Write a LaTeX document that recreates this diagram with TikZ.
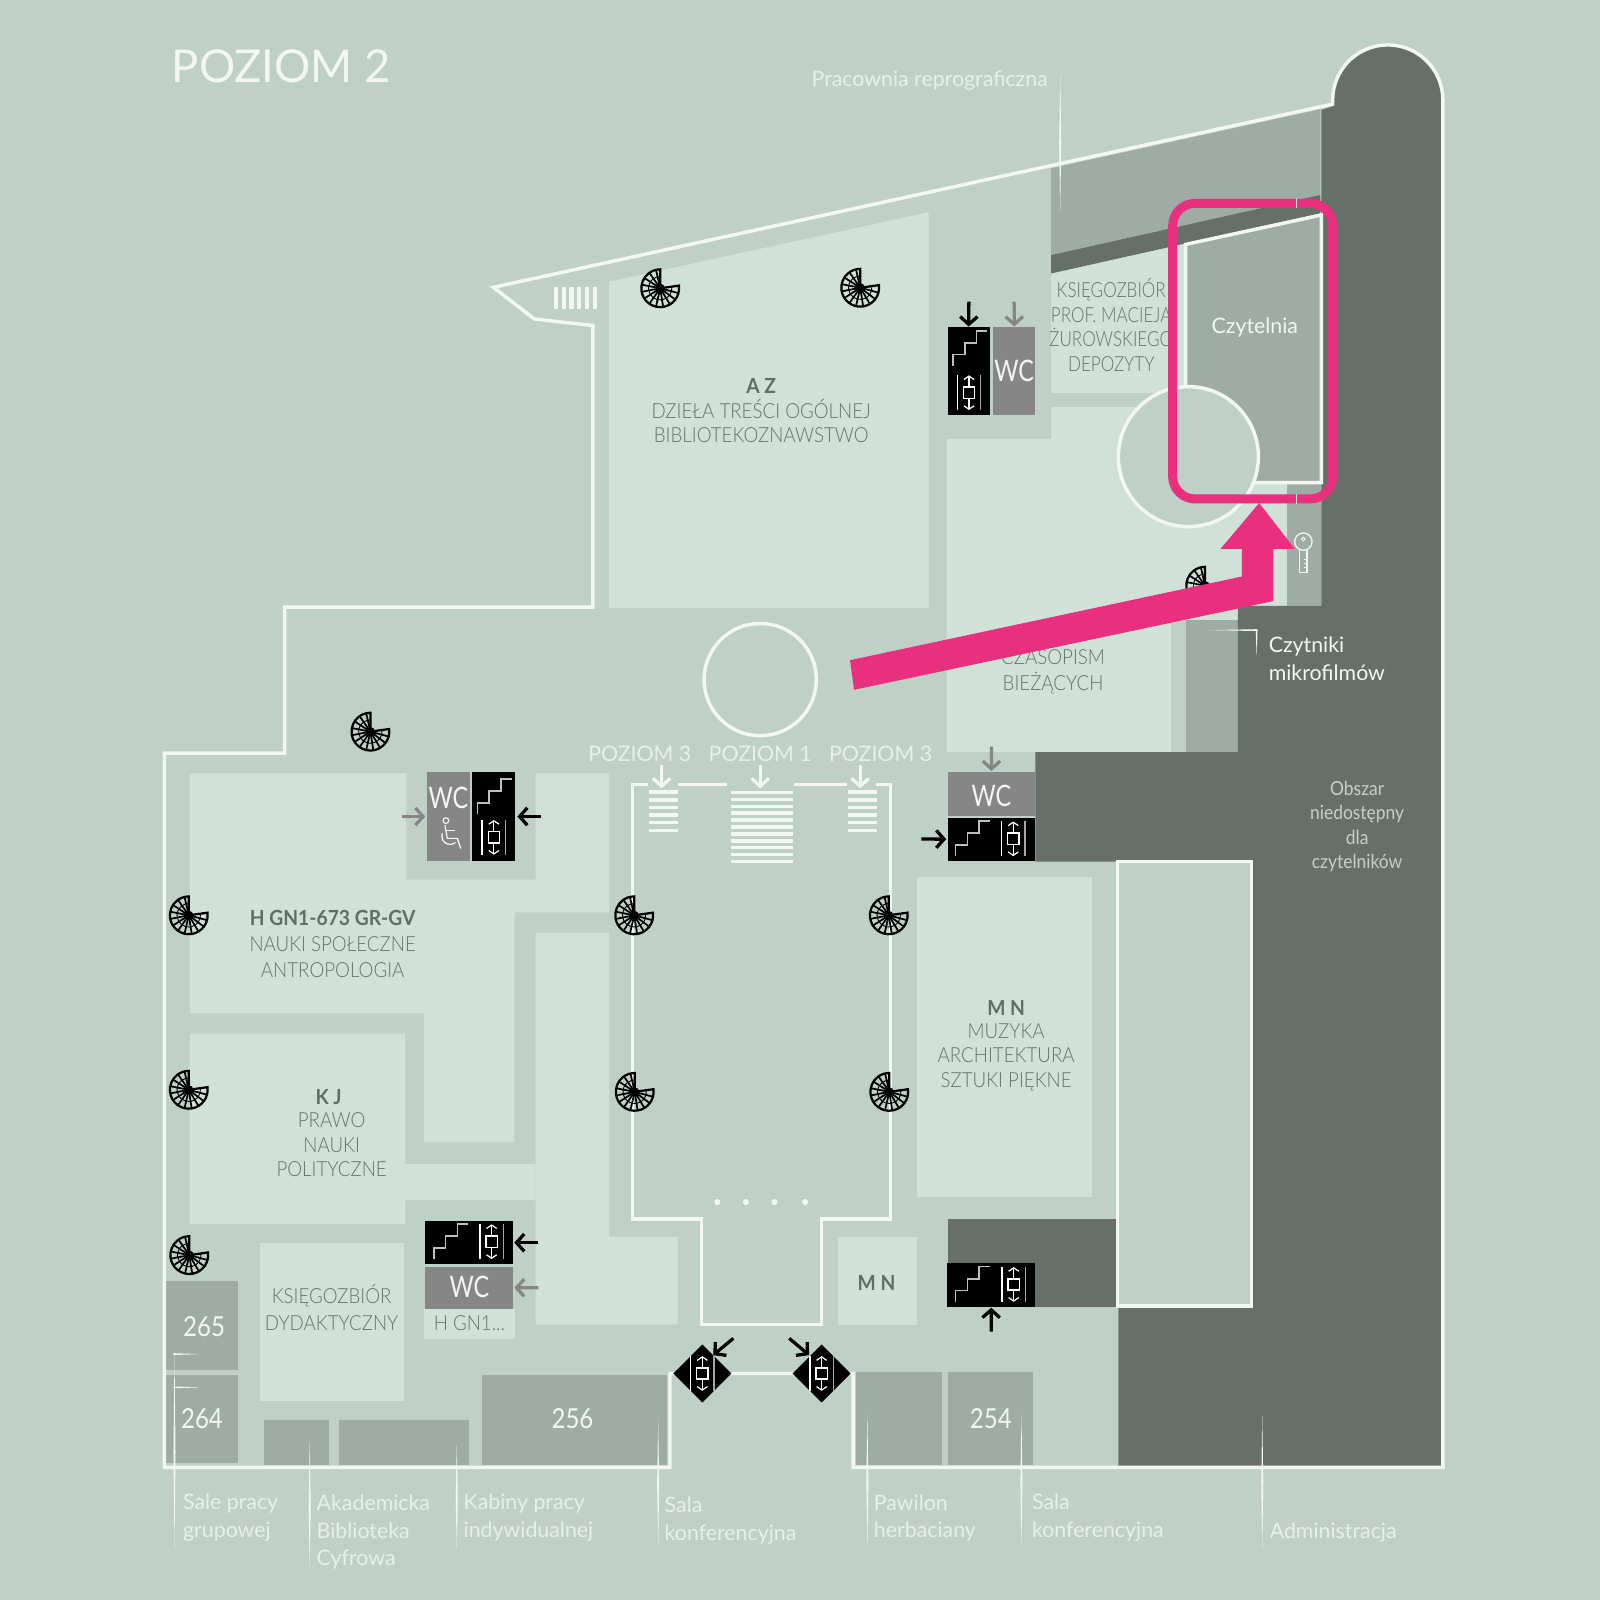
\documentclass[tikz,border=0pt]{standalone}
\usepackage{fontspec}
\setmainfont{Lato}
\newfontfamily\capsf{Lato Light}[FakeStretch=0.9]
\newfontfamily\capnf{Lato Light}[FakeStretch=0.82]
\newfontfamily\capbf{Lato}[FakeStretch=0.925]
\newfontfamily\narrowf{Lato}[FakeStretch=0.79]
\newfontfamily\numf{Lato}[FakeStretch=0.87]
\newfontfamily\obsf{Lato}[FakeStretch=0.9]
\usetikzlibrary{arrows.meta,shapes.geometric}
\definecolor{bgc}{HTML}{BFD1C7}
\definecolor{lightc}{HTML}{D0E2D8}
\definecolor{midc}{HTML}{9EACA5}
\definecolor{darkc}{HTML}{667069}
\definecolor{wcc}{HTML}{868686}
\definecolor{pinkc}{HTML}{E8307F}
\definecolor{labc}{HTML}{64746C}
\definecolor{boldc}{HTML}{5F6E66}
\definecolor{whc}{HTML}{F2F7F4}
\definecolor{softc}{HTML}{E6EFEA}
\definecolor{obc}{HTML}{C6D0CA}
\newcommand{\lbox}[6]{%
 \pgfmathsetmacro\bw{(#5-#3)*0.5}\pgfmathsetmacro\bh{(#6-#4)*0.5}%
 \pgfmathsetmacro\bcx{(#3+#5)/2}\pgfmathsetmacro\bcy{(#4+#6)/2}%
 \node[#2,minimum width=\bw pt,minimum height=\bh pt] (#1) at (\bcx,\bcy) {};}
\newcommand{\leadv}[3]{\pgfmathsetmacro\ym{(#2+#3)/2}\fill[whc] (#1,#2) -- (#1+1,\ym) -- (#1,#3) -- (#1-1,\ym) -- cycle;}
\newcommand{\leadtop}[3]{\fill[whc] (#1-.9,#2) -- (#1+.9,#2) -- (#1,#3) -- cycle;}
\newcommand{\leadr}[3]{\fill[whc] (#2,#1-.9) -- (#2,#1+.9) -- (#3,#1) -- cycle;}
\tikzset{
 room/.style={inner sep=0,outer sep=0,rectangle},
 midroom/.style={room,fill=midc},
 blackbox/.style={room,fill=black},
 wcbox/.style={room,fill=wcc},
 lightroom/.style={room,fill=lightc},
 wall/.style={draw=whc,line width=1.7pt,line join=miter},
 lab/.style={text=labc,font=\capsf\fontsize{10.2pt}{12pt}\selectfont,inner sep=0,align=center},
 labwide/.style={text=labc,font=\capsf\fontsize{10.2pt}{13pt}\selectfont,inner sep=0,align=center},
 labnarrow/.style={text=labc,font=\capnf\fontsize{10.2pt}{12.2pt}\selectfont,inner sep=0,align=center},
 labb/.style={text=boldc,font=\capbf\bfseries\fontsize{10.2pt}{12pt}\selectfont,inner sep=0,align=center},
 wlab/.style={text=softc,font=\fontsize{10.45pt}{13.6pt}\selectfont,inner sep=0,align=left,anchor=west},
 wnum/.style={text=whc,font=\numf\fontsize{13.5pt}{14pt}\selectfont,inner sep=0},
 wctext/.style={text=whc,font=\narrowf\fontsize{14.5pt}{15pt}\selectfont,inner sep=0},
 blackarrow/.style={draw=black,line width=1.6pt,-{Straight Barb[length=3.8pt,width=8.5pt,line width=1.6pt]}},
 grayarrow/.style={draw=wcc,line width=1.6pt,-{Straight Barb[length=3.8pt,width=8.5pt,line width=1.6pt]}},
 whitearrow/.style={draw=whc,line width=1.6pt,-{Straight Barb[length=3.8pt,width=8.5pt,line width=1.6pt]}},
 fanstair/.pic={
  \draw[black,line width=1.1pt] (-8:18.5) arc[start angle=-8,end angle=270,radius=18.5] -- (0,0) -- cycle;
  \draw[black,line width=.45pt] (-8:11.5) arc[start angle=-8,end angle=270,radius=11.5];
  \foreach \a in {15,37,59,81,103,125,147,169,191,213,235,257}{\draw[black,line width=.85pt] (0,0) -- (\a:18);}
  \fill[black] (0,0) circle[radius=4.5];
 },
 stairicon/.pic={
  \draw[black!25,line width=.8pt,line join=miter] (-16.5,17) -- (-16.5,6) -- (-5,6) -- (-5,-5.5) -- (6.5,-5.5) -- (6.5,-17.4) -- (17,-17.4);
 },
 lifticon/.pic={
  \draw[white,line width=.7pt] (-11.5,-17) -- (-11.5,17);
  \draw[black!35,line width=.7pt] (11.5,-17) -- (11.5,17);
  \draw[white,line width=.7pt] (-5.5,-5.5) rectangle (5.5,5.5);
  \draw[white,line width=.6pt,-{Straight Barb[length=1.7pt,width=5pt,line width=.6pt]}] (0,-5.5) -- (0,-17);
  \draw[white,line width=.6pt,-{Straight Barb[length=1.7pt,width=5pt,line width=.6pt]}] (0,5.5) -- (0,17);
 },
 wheelie/.pic={
  \draw[whc,line width=.55pt] (-4,-12.4) circle[radius=2.8];
  \draw[whc,line width=.6pt,line join=round] (-5,-8) -- (-2.6,5) -- (7.2,5) -- (10.5,15);
  \draw[whc,line width=.6pt] (-4,-3) -- (5,-3);
  \draw[whc,line width=.6pt] (-7.5,0) arc[start angle=200,end angle=50,radius=8.2];
 },
 keyicon/.pic={
  \draw[whc,line width=.65pt] (0,0) circle[radius=8.5];
  \draw[whc,line width=.45pt] (0,-2.5) circle[radius=1.8];
  \draw[whc,line width=.65pt] (-3.6,8) -- (-3.6,30) -- (3.6,30) -- (3.6,8);
  \draw[whc,line width=.4pt] (3.6,17) -- (.8,17) (3.6,21) -- (.8,21) (3.6,25) -- (.8,25);
 },
}
\begin{document}
\begin{tikzpicture}[x=0.5pt,y=-0.5pt]
\useasboundingbox (0,0) rectangle (1568,1568);
\fill[bgc] (0,0) rectangle (1568,1568);
% light reading areas
\fill[lightc] (597,276) -- (910,208) -- (910,596) -- (597,596) -- cycle;
\fill[lightc] (928,430) -- (1030,430) -- (1030,399) -- (1261,399) -- (1261,593) -- (1214,593) -- (1214,608) -- (1148,608) -- (1148,737) -- (928,737) -- cycle;
\fill[lightc] (1030,268) -- (1294,209) -- (1294,385) -- (1030,385) -- cycle;
\fill[bgc] (1030,385) rectangle (1130,399);
\fill[lightc] (186,758) -- (398,758) -- (398,862) -- (525,862) -- (525,758) -- (597,758) -- (597,894) -- (504,894) -- (504,1119) -- (415.5,1119) -- (415.5,993) -- (186,993) -- cycle;
\fill[lightc] (525,914) -- (597,914) -- (597,1212) -- (664,1212) -- (664,1298) -- (525,1298) -- cycle;
\fill[lightc] (186,1013) -- (397,1013) -- (397,1140.5) -- (525,1140.5) -- (525,1176) -- (397,1176) -- (397,1199.5) -- (186,1199.5) -- cycle;
\lbox{roomDyd}{lightroom}{255}{1218}{396}{1373}
\lbox{roomMuz}{lightroom}{899}{859}{1070}{1173}
\lbox{roomMN}{lightroom}{821.6}{1212}{898.3}{1298}
\lbox{roomHgn}{lightroom}{415.5}{1283}{504.7}{1312.6}
% gray zones
\fill[midc] (1030,165) -- (1294,107) -- (1294,191) -- (1030,250) -- cycle;
\fill[darkc] (1030,250) -- (1294,191) -- (1294,209) -- (1030,268) -- cycle;
\lbox{roomKey}{midroom}{1261}{470}{1295}{594}
\lbox{roomMik}{midroom}{1162}{608}{1213}{737}
\lbox{room265}{midroom}{162.7}{1255}{233.6}{1342.6}
\lbox{room264}{midroom}{162.7}{1347.5}{233.6}{1434}
\lbox{roomCyf}{midroom}{258.4}{1391.6}{322.4}{1436}
\lbox{roomKab}{midroom}{332.5}{1391.6}{459.6}{1436}
\lbox{room256}{midroom}{472}{1347.5}{653.3}{1436}
\lbox{roomHer}{midroom}{839}{1344.3}{923}{1436}
\lbox{room254}{midroom}{928.7}{1344.3}{1012.7}{1436}
% inaccessible zone
\fill[darkc] (1294,108) -- (1306,104) -- (1306,98) arc[start angle=180,end angle=360,radius=54] -- (1414,1438) -- (1096,1438) -- (1096,1280) -- (1226.6,1280) -- (1226.6,844.4) -- (1014.6,844.4) -- (1014.6,737) -- (1213,737) -- (1213,594) -- (1295,594) -- (1295,108) -- cycle;
\fill[darkc] (928.7,1195) rectangle (1096,1280.5);
% reading room
\fill[midc] (1162,239.5) -- (1295,210.7) -- (1295,473) -- (1162,473) -- cycle;
\draw[wall] (1162,395) -- (1162,239.5) -- (1295,210.7) -- (1295,473) -- (1215,473);
\draw[wall,fill=bgc] (1164.6,447.5) circle[radius=68.6];
% building outline
\draw[wall] (656.6,1346) -- (656.6,1438) -- (161,1438) -- (161,738) -- (279,738) -- (279,595) -- (581,595) -- (581,319) -- (523.7,312.6) -- (483.5,281.6) -- (1306,102) -- (1306,98) arc[start angle=180,end angle=360,radius=54] -- (1414,1438) -- (836,1438) -- (836,1346) -- cycle;
\draw[wall,fill=bgc] (1095.3,844.4) rectangle (1226.6,1280);
% atrium
\draw[wall] (635.3,768.7) -- (620,768.7) -- (620,1194.6) -- (687.6,1194.6) -- (687.6,1298) -- (805.3,1298) -- (805.3,1194.6) -- (872.5,1194.6) -- (872.5,768.7) -- (858,768.7);
\draw[wall] (664,768.7) -- (712,768.7);
\draw[wall] (778,768.7) -- (830,768.7);
\draw[wall] (745,666) circle[radius=55];
\foreach \x in {703,731,759,789}{\fill[whc] (\x,1178) circle[radius=3];}
% stair bars
\foreach \k in {0,...,5}{\fill[whc] (636,{774.5+\k*7.5}) rectangle (664,{778+\k*7.5});}
\foreach \k in {0,...,5}{\fill[whc] (831,{774.5+\k*7.5}) rectangle (859,{778+\k*7.5});}
\foreach \k in {0,...,10}{\fill[whc] (716,{775+\k*6.75}) rectangle (777,{778.5+\k*6.75});}
\foreach \k in {0,...,5}{\fill[whc] ({543+\k*7.55},281.6) rectangle ({547.2+\k*7.55},302.8);}
% spiral stairs
\foreach \p in {(647,282.5),(843,282),(363,717),(185,897),(621.5,897),(871,897),(185,1068),(622,1070),(871.5,1070),(185.5,1230),(1181,574)}{\pic at \p {fanstair};}
% service blocks
\lbox{liftA}{blackbox}{928.7}{320}{970}{406.7}
\lbox{wcA}{wcbox}{973.5}{320}{1014.6}{406.7}
\pic at (950.6,341.5) {stairicon};
\pic at (949.6,384.8) {lifticon};
\node[wctext] (wcAt) at (993.8,363) {WC};
\lbox{wcB}{wcbox}{418.8}{757}{460.6}{843.4}
\lbox{liftB}{blackbox}{463}{757}{505}{843.4}
\node[wctext] (wcBt) at (439.4,782.4) {WC};
\pic at (441,816.6) {wheelie};
\pic at (484.4,780.7) {stairicon};
\pic at (484,820.6) {lifticon};
\lbox{wcC}{wcbox}{928.7}{757}{1014.6}{799.7}
\lbox{liftC}{blackbox}{928.7}{801.3}{1014.6}{843.4}
\node[wctext] (wcCt) at (971.6,780) {WC};
\pic at (953,822) {stairicon};
\pic at (993,822) {lifticon};
\lbox{liftD}{blackbox}{416.8}{1196.6}{503}{1239}
\lbox{wcD}{wcbox}{416.8}{1241.3}{503}{1282.8}
\node[wctext] (wcDt) at (460,1261.6) {WC};
\pic at (441.7,1216.8) {stairicon};
\pic at (481.8,1216.8) {lifticon};
\lbox{liftE}{blackbox}{928.4}{1238}{1014.3}{1280.5}
\pic at (953,1258.7) {stairicon};
\pic at (993.4,1258.7) {lifticon};
\node[diamond,fill=black,inner sep=0,outer sep=0,minimum width=28.4pt,minimum height=28.4pt] (diaL) at (688.3,1346) {};
\node[diamond,fill=black,inner sep=0,outer sep=0,minimum width=28.4pt,minimum height=28.4pt] (diaR) at (805.2,1346) {};
\pic at (688.3,1346) {lifticon};
\pic at (805.2,1346) {lifticon};
% arrows
\coordinate (aA1) at (949.5,295.6); \coordinate (aA2) at (993.8,295.6);
\draw[blackarrow] (aA1) -- (liftA.north);
\draw[grayarrow] (aA2) -- (wcA.north);
\coordinate (aB1) at (530,800.2); \coordinate (aB2) at (393.6,800.2);
\draw[blackarrow,shorten >=1pt] (aB1) -- (liftB.east);
\draw[grayarrow,shorten >=1pt] (aB2) -- (wcB.west);
\coordinate (aC1) at (971.6,731.7); \coordinate (aC2) at (903,822.3);
\draw[grayarrow,shorten >=.7pt] (aC1) -- (wcC.north);
\draw[blackarrow,shorten >=.7pt] (aC2) -- (liftC.west);
\coordinate (aD1) at (527.5,1217.8); \coordinate (aD2) at (527.5,1262);
\draw[blackarrow,shorten >=.5pt] (aD1) -- (liftD.east);
\draw[grayarrow,shorten >=.5pt] (aD2) -- (wcD.east);
\coordinate (aE) at (971.3,1305);
\draw[blackarrow,shorten >=.5pt] (aE) -- (liftE.south);
\coordinate (aL) at (718.6,1311.6); \coordinate (aR) at (773.5,1311.6);
\coordinate (dL) at (699,1328); \coordinate (dR) at (793,1328);
\draw[blackarrow] (aL) -- (dL);
\draw[blackarrow] (aR) -- (dR);
\coordinate (s1) at (648.4,772.5); \coordinate (s2) at (745,772.5); \coordinate (s3) at (843,772.5);
\coordinate (t1) at (648.4,749.7); \coordinate (t2) at (745,749.7); \coordinate (t3) at (843,749.7);
\draw[whitearrow] (t1) -- (s1);
\draw[whitearrow] (t2) -- (s2);
\draw[whitearrow] (t3) -- (s3);
\pic at (1277.3,530.8) {keyicon};
% leaders
\leadv{1039}{72}{207}
\leadr{617.5}{1232}{1184}\leadtop{1231.5}{617}{644}
\leadv{171}{1327}{1519}\leadr{1327}{170}{197}\leadr{1359.6}{170}{197}
\leadv{303.5}{1411}{1538.6}
\leadv{447.6}{1416}{1518}
\leadv{645}{1390}{1518}
\leadv{850}{1385}{1518}
\leadv{1001}{1385}{1518}
\leadv{1237}{1387}{1518}
% texts
\node[text=whc,font=\fontsize{22.2pt}{24pt}\selectfont,inner sep=0,anchor=west] (title) at (168,65) {POZIOM 2};
\node[wlab] (tRepro) at (795,79) {Pracownia reprograficzna};
\node[labb] (tAZ) at (746,378) {A Z};
\node[lab,font=\capsf\fontsize{10.2pt}{11.7pt}\selectfont] (tAZ2) at (746,413) {DZIEŁA TREŚCI OGÓLNEJ\\BIBLIOTEKOZNAWSTWO};
\node[labnarrow] (tKsi) at (1089,318.5) {KSIĘGOZBIÓR\\PROF. MACIEJA\\ŻUROWSKIEGO\\DEPOZYTY};
\node[wlab,text=whc] (tCzyt) at (1187,321) {Czytelnia};
\node[labwide] (tCza) at (1032,658.5) {CZASOPISM\\BIEŻĄCYCH};
\node[wlab,text=whc,font=\fontsize{10.45pt}{14pt}\selectfont] (tMik) at (1243,645.5) {Czytniki\\mikrofilmów};
\node[text=obc,font=\obsf\fontsize{9.5pt}{11.9pt}\selectfont,inner sep=0,align=center] (tOb) at (1330,810) {Obszar\\niedostępny\\dla\\czytelników};
\node[wlab,anchor=center] (p3a) at (627,739) {POZIOM 3};
\node[wlab,anchor=center] (p1) at (745,739) {POZIOM 1};
\node[wlab,anchor=center] (p3b) at (863,739) {POZIOM 3};
\node[labb] (tH) at (326,900) {H GN1-673 GR-GV};
\node[labwide] (tH2) at (326,938) {NAUKI SPOŁECZNE\\ANTROPOLOGIA};
\node[labb] (tKJ) at (322,1075) {K J};
\node[lab] (tKJ2) at (325,1122) {PRAWO\\NAUKI\\POLITYCZNE};
\node[labb] (tMN) at (986,988) {M N};
\node[lab] (tMN2) at (986,1036) {MUZYKA\\ARCHITEKTURA\\SZTUKI PIĘKNE};
\node[labb] (tMNb) at (859,1257) {M N};
\node[labwide] (tDyd) at (325,1281.5) {KSIĘGOZBIÓR\\DYDAKTYCZNY};
\node[lab] (tHg) at (460,1297) {H GN1...};
\node[wnum] (n265) at (200,1300) {265};
\node[wnum] (n264) at (198,1390) {264};
\node[wnum] (n256) at (561,1390) {256};
\node[wnum] (n254) at (971,1390) {254};
\node[wlab] (bSale) at (179,1487.5) {Sale pracy\\grupowej};
\node[wlab] (bAka) at (310,1501.5) {Akademicka\\Biblioteka\\Cyfrowa};
\node[wlab] (bKab) at (454,1487.5) {Kabiny pracy\\indywidualnej};
\node[wlab] (bKon) at (651,1490.5) {Sala\\konferencyjna};
\node[wlab] (bHer) at (856,1487.5) {Pawilon\\herbaciany};
\node[wlab] (bKon2) at (1011,1487.5) {Sala\\konferencyjna};
\node[wlab] (bAdm) at (1244,1502) {Administracja};
% highlight
\draw[pinkc,line width=4.4pt,rounded corners=11pt] (1270.7,199.3) -- (1149.2,199.3) -- (1149.2,489) -- (1270.7,489);
\draw[pinkc,line width=4.4pt,rounded corners=11pt] (1270.7,199.3) -- (1306,199.3) -- (1306,489) -- (1270.7,489);
\draw[lightc,line width=.5pt] (1270.7,194.5) -- (1270.7,204);
\draw[lightc,line width=.5pt] (1270.7,484.5) -- (1270.7,494);
\fill[pinkc] (833,647) -- (1217,565) -- (1217,538) -- (1196,538) -- (1234,493) -- (1269,538) -- (1248,538) -- (1248,589) -- (837,676) -- cycle;
\end{tikzpicture}
\end{document}
